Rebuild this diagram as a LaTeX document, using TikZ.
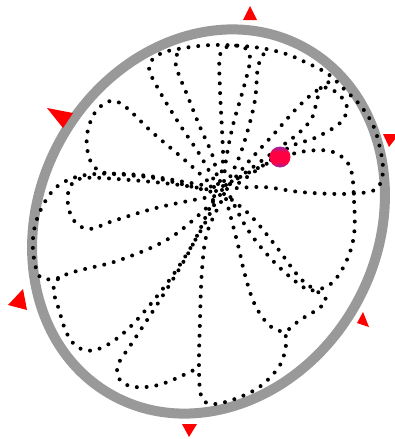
\documentclass[tikz,border=0pt]{standalone}
\usetikzlibrary{calc}
\definecolor{rimgray}{RGB}{153,153,153}
\definecolor{ballred}{RGB}{255,0,64}
\definecolor{ballpurple}{RGB}{150,40,170}
\pgfdeclareverticalshading{ballshade}{100bp}{color(0bp)=(ballpurple); color(25bp)=(ballpurple); color(38bp)=(ballred); color(62bp)=(ballred); color(75bp)=(ballpurple); color(100bp)=(ballpurple)}
\begin{document}
\begin{tikzpicture}[x=1pt,y=-1pt,
  trail/.style={line width=4pt, dash pattern=on 0pt off 9.8pt, line cap=round, black},
  rim/.style={draw=rimgray, line width=10pt},
  marker/.style={fill=red, draw=none}]
\useasboundingbox (0,0) rectangle (395,439);
\coordinate (c) at (218,190);
\draw[rim, rotate around={61:(208.5,221.5)}] (208.5,221.5) ellipse [x radius=198.6pt, y radius=169pt];
% petals
\draw[trail] plot[smooth, tension=0.6] coordinates {($(c)+(-4,-3)$) (187,162) (153,133) (118,102) (97,110) (87,135) (90,160) (102,172) (127,175) (160,179) ($(c)+(-6,2)$)};
\draw[trail] plot[smooth, tension=0.6] coordinates {($(c)+(-2,1)$) (180,185) (130,180) (84,178) (70,187) (68,205) (75,222) (90,229) (113,221) (160,207) ($(c)+(-3,6)$)};
\draw[trail] plot[smooth, tension=0.6] coordinates {(58,278) (40,277) (33,250) (36,222) (50,194) (68,180) (95,174) (140,175) (185,182) ($(c)+(1,-2)$)};
\draw[trail] plot[smooth, tension=0.6] coordinates {($(c)+(2,5)$) (173,236) (120,260) (58,279) (60,313) (73,343) (95,350) (127,330) (168,282) (200,232) ($(c)+(-1,9)$)};
\draw[trail] plot[smooth, tension=0.6] coordinates {($(c)+(-5,10)$) (190,250) (160,300) (132,343) (118,365) (120,380) (135,387) (162,384) (198,368)};
\draw[trail] plot[smooth, tension=0.6] coordinates {($(c)+(3,12)$) (207,233) (202,270) (200,320) (199,370) (202,398) (215,404) (240,397) (262,385) (280,365) (286,345) (285,332)};
\draw[trail] plot[smooth, tension=0.6] coordinates {($(c)+(6,4)$) (250,215) (275,245) (300,278) (318,292) (326,300) (318,309) (300,320) (285,331) (270,326) (255,305) (245,275) (238,245) ($(c)+(8,9)$)};
\draw[trail] plot[smooth, tension=0.6] coordinates {($(c)+(5,-4)$) (250,172) (280,158) (307,151) (333,152) (350,167) (354,200) (354,235) (346,262) (332,283) (315,290) (303,287) (275,263) (248,230) ($(c)+(10,2)$)};
\draw[trail] plot[smooth, tension=0.6] coordinates {($(c)+(9,-1)$) (263,187) (300,192) (340,194) (368,192) (379,186) (383,170) (380,148) (373,125) (360,105) (345,90) (328,74) (305,62) (283,53) (253,47) (213,45) (178,49) (158,55) (149,68) (160,92) (180,125) (200,155) ($(c)+(-3,-8)$)};
\draw[trail] plot[smooth, tension=0.6] coordinates {($(c)+(0,-6)$) (213,157) (200,127) (188,97) (176,66) (178,52)};
\draw[trail] plot[smooth, tension=0.6] coordinates {($(c)+(2,-9)$) (223,160) (222,130) (220,90) (220,55) (230,46) (245,48) (250,60) (243,90) (233,125) (226,160) ($(c)+(6,-8)$)};
\draw[trail] plot[smooth, tension=0.6] coordinates {($(c)+(8,-5)$) (238,160) (247,133) (255,100) (258,67) (265,52)};
\draw[trail] plot[smooth, tension=0.6] coordinates {($(c)+(12,-6)$) (250,160) (273,135) (300,105) (322,88) (337,93) (347,107) (340,123) (317,137) (300,143) (285,150) ($(c)+(14,-2)$)};
\draw[trail] plot[smooth, tension=0.6] coordinates {($(c)+(4,0)$) (260,162) (290,140) (300,132) (312,118) (317,100) (322,86) (335,80)};
% markers
\fill[marker] (250,6) -- (243,20) -- (257,20) -- cycle;
\fill[marker] (47,108) -- (73,113) -- (63,128) -- cycle;
\fill[marker] (8,305) -- (23,289) -- (27,310) -- cycle;
\fill[marker] (383,134) -- (399,134) -- (389,147) -- cycle;
\fill[marker] (363,312) -- (357,323) -- (369,327) -- cycle;
\fill[marker] (182,424) -- (197,424) -- (189,437) -- cycle;
% ball
\node[circle, minimum size=21pt, inner sep=0pt, shading=ballshade] (ball) at (280,157) {};
\end{tikzpicture}
\end{document}
